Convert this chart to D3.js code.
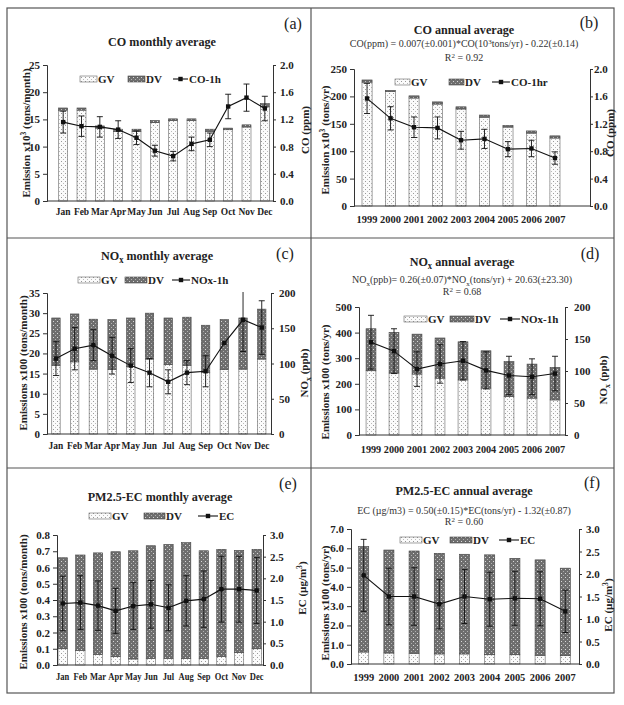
<!DOCTYPE html>
<html><head><meta charset="utf-8">
<script src="https://cdn.jsdelivr.net/npm/d3@7"></script>
<style>
body{margin:0;background:#fff;}
svg text{font-family:"Liberation Serif","Times New Roman","DejaVu Serif",serif !important;}
</style></head>
<body><svg id="c" width="624" height="705"></svg>
<script>
// ---------- DATA ----------
const months = ["Jan","Feb","Mar","Apr","May","Jun","Jul","Aug","Sep","Oct","Nov","Dec"];
const years = ["1999","2000","2001","2002","2003","2004","2005","2006","2007"];

// (a) CO monthly (x10^3 tons/month), CO-1h (ppm)
const coMonthGV = [16.7,16.7,13.4,12.8,12.8,14.4,14.8,14.8,12.8,13.1,13.6,17.3];
const coMonthDV = [0.4,0.4,0.4,0.4,0.4,0.4,0.3,0.3,0.4,0.3,0.4,0.6];
const coMonthObs = [1.16,1.10,1.09,1.05,0.93,0.74,0.66,0.84,0.90,1.39,1.52,1.36];
const coMonthErr = [0.16,0.15,0.15,0.13,0.10,0.08,0.07,0.10,0.10,0.18,0.20,0.18];

// (b) CO annual (x10^3 tons/yr), CO-1hr (ppm)
const coYearGV = [226,209,197,186,177,162,144,133,124];
const coYearDV = [4,2,4,4,4,4,3,4,4];
const coYearObs = [1.57,1.28,1.15,1.14,0.96,0.98,0.83,0.84,0.70];
const coYearErr = [0.22,0.17,0.15,0.16,0.13,0.14,0.11,0.12,0.09];

// (c) NOx monthly (x100 tons/month), NOx-1h (ppb)
const noxMonthGV = [17.0,17.9,16.1,16.0,16.8,18.6,17.2,17.0,15.3,16.0,16.1,18.6];
const noxMonthDV = [11.8,11.9,12.4,12.4,12.0,11.4,11.6,12.0,11.7,12.4,12.7,12.4];
const noxMonthObs = [107,121,126,111,97,87,74,87,89,129,162,151];
const noxMonthErr = [24,30,22,26,24,20,17,17,22,0,45,38];

// (d) NOx annual (x100 tons/yr), NOx-1h (ppb)
const noxYearGV = [251,242,238,222,215,183,150,144,137];
const noxYearDV = [164,159,156,157,149,146,137,133,127];
const noxYearObs = [145,131,103,111,116,101,93,91,96];
const noxYearErr = [42,35,27,30,30,29,30,28,27];

// (e) PM2.5-EC monthly (x100 tons/month), EC (ug/m3)
const ecMonthGV = [0.100,0.090,0.065,0.051,0.037,0.041,0.041,0.041,0.041,0.053,0.076,0.100];
const ecMonthDV = [0.560,0.587,0.625,0.646,0.666,0.693,0.701,0.712,0.662,0.659,0.629,0.612];
const ecMonthObs = [1.42,1.44,1.37,1.25,1.36,1.40,1.32,1.48,1.52,1.75,1.75,1.72];
const ecMonthErr = [0.63,0.62,0.57,0.52,0.54,0.55,0.53,0.58,0.65,0.76,0.76,0.76];

// (f) PM2.5-EC annual (x100 tons/yr), EC (ug/m3)
const ecYearGV = [0.62,0.57,0.55,0.52,0.52,0.48,0.48,0.45,0.43];
const ecYearDV = [5.47,5.34,5.31,5.22,5.17,5.18,5.00,4.95,4.54];
const ecYearObs = [1.97,1.50,1.50,1.33,1.50,1.44,1.46,1.45,1.17];
const ecYearErr = [0.80,0.63,0.64,0.55,0.60,0.60,0.60,0.60,0.47];

// tick values
const coMonthLeftTicks = [0,5,10,15,20,25];
const coYearLeftTicks = [0,50,100,150,200,250];
const coRightTicks = [0,0.4,0.8,1.2,1.6,2.0];
const noxMonthLeftTicks = [0,5,10,15,20,25,30,35];
const noxMonthRightTicks = [0,50,100,150,200];
const noxYearLeftTicks = [0,100,200,300,400,500];
const noxYearRightTicks = [0,50,100,150,200];
const ecMonthLeftTicks = [0,0.1,0.2,0.3,0.4,0.5,0.6,0.7,0.8];
const ecYearLeftTicks = [0,1,2,3,4,5,6,7];
const ecRightTicks = [0,0.5,1.0,1.5,2.0,2.5,3.0];

// ---------- DRAW ----------
const svg = d3.select("#c");
const defs = svg.append("defs");
const pg = defs.append("pattern").attr("id","gv").attr("width",4).attr("height",4).attr("patternUnits","userSpaceOnUse");
pg.append("rect").attr("width",4).attr("height",4).attr("fill","#fbfbfb");
pg.append("rect").attr("x",1).attr("y",1).attr("width",1).attr("height",1).attr("fill","#999");
pg.append("rect").attr("x",3).attr("y",3).attr("width",1).attr("height",1).attr("fill","#bbb");
const pd = defs.append("pattern").attr("id","dv").attr("width",4).attr("height",4).attr("patternUnits","userSpaceOnUse");
pd.append("rect").attr("width",4).attr("height",4).attr("fill","#6e6e6e");
pd.append("rect").attr("x",1).attr("y",1).attr("width",1).attr("height",1).attr("fill","#d8d8d8");
pd.append("rect").attr("x",3).attr("y",3).attr("width",1).attr("height",1).attr("fill","#b0b0b0");

const frameCol = "#555";
svg.append("rect").attr("x",7).attr("y",8).attr("width",607).attr("height",685)
  .attr("fill","none").attr("stroke",frameCol).attr("stroke-width",1.2);
svg.append("line").attr("x1",311).attr("x2",311).attr("y1",8).attr("y2",693).attr("stroke",frameCol).attr("stroke-width",1.2);
svg.append("line").attr("x1",7).attr("x2",614).attr("y1",238).attr("y2",238).attr("stroke",frameCol).attr("stroke-width",1.2);
svg.append("line").attr("x1",7).attr("x2",614).attr("y1",468).attr("y2",468).attr("stroke",frameCol).attr("stroke-width",1.2);

// rich text: parts are strings or [text, "sup"|"sub"]
function rich(sel, parts, fs){
  let back = 0;
  parts.forEach(p=>{
    const [t,m] = Array.isArray(p)?p:[p,""];
    const ts = sel.append("tspan").text(t);
    let dy = back; back = 0;
    if(m==="sup"){ dy += -fs*0.35; back = fs*0.35; ts.attr("font-size",fs*0.7); }
    if(m==="sub"){ dy += fs*0.25; back = -fs*0.25; ts.attr("font-size",fs*0.7); }
    if(dy!==0) ts.attr("dy",dy);
  });
}

function panel(o){
  const g = svg.append("g");
  const x = d3.scaleBand().domain(o.cats).range(o.band).paddingInner(1-o.barFrac).paddingOuter((1-o.barFrac)/2);
  const yL = d3.scaleLinear().domain([0,o.leftMax]).range([o.bottom,o.top]);
  const yR = d3.scaleLinear().domain([0,o.rightMax]).range([o.bottom,o.top]);
  const clipId = "clip"+o.tag;
  defs.append("clipPath").attr("id",clipId).append("rect")
    .attr("x",o.left).attr("y",o.top-1).attr("width",o.right-o.left).attr("height",o.bottom-o.top+1);

  const rows = o.cats.map((c,i)=>({c, gv:o.gv[i], dv:o.dv[i], obs:o.obs[i], err:o.err[i]}));
  const bw = x.bandwidth();
  g.selectAll(".gvb").data(rows).join("rect")
    .attr("x",d=>x(d.c)).attr("width",bw)
    .attr("y",d=>yL(d.gv)).attr("height",d=>yL(0)-yL(d.gv))
    .attr("fill","url(#gv)").attr("stroke","#666").attr("stroke-width",0.6);
  g.selectAll(".dvb").data(rows).join("rect")
    .attr("x",d=>x(d.c)).attr("width",bw)
    .attr("y",d=>yL(d.gv+d.dv)).attr("height",d=>yL(d.gv)-yL(d.gv+d.dv))
    .attr("fill","url(#dv)").attr("stroke","#444").attr("stroke-width",0.6);

  const eg = g.append("g").attr("clip-path",`url(#${clipId})`);
  const cx = d=>x(d.c)+bw/2;
  const er = rows.filter(d=>d.err>0);
  eg.selectAll(".ev").data(er).join("line")
    .attr("x1",cx).attr("x2",cx).attr("y1",d=>yR(d.obs+d.err)).attr("y2",d=>yR(d.obs-d.err))
    .attr("stroke","#111").attr("stroke-width",0.9);
  ["t","b"].forEach(k=>{
    eg.selectAll(".ec"+k).data(er).join("line")
      .attr("x1",d=>cx(d)-3).attr("x2",d=>cx(d)+3)
      .attr("y1",d=>yR(k==="t"?d.obs+d.err:d.obs-d.err)).attr("y2",d=>yR(k==="t"?d.obs+d.err:d.obs-d.err))
      .attr("stroke","#111").attr("stroke-width",0.9);
  });
  g.append("path").datum(rows)
    .attr("d",d3.line().x(cx).y(d=>yR(d.obs)))
    .attr("fill","none").attr("stroke","#111").attr("stroke-width",1.1);
  g.selectAll(".pt").data(rows).join("rect")
    .attr("x",d=>cx(d)-2.2).attr("y",d=>yR(d.obs)-2.2).attr("width",4.4).attr("height",4.4).attr("fill","#111");

  const ax = g.append("g").attr("font-weight","bold");
  const la = d3.axisLeft(yL).tickValues(o.leftTicks).tickSize(4).tickPadding(3).tickFormat(o.leftFmt);
  const ra = d3.axisRight(yR).tickValues(o.rightTicks).tickSize(3).tickPadding(o.rPad).tickFormat(o.rightFmt);
  const ba = d3.axisBottom(x).tickSize(0).tickPadding(o.xPad);
  [[la,`translate(${o.left},0)`],[ra,`translate(${o.right},0)`]].forEach(([a,t])=>{
    const s = ax.append("g").attr("transform",t).call(a);
    s.selectAll("text").attr("font-size",o.tickFs).attr("font-weight","bold").attr("fill","#222");
    s.select(".domain").attr("stroke","#333");
    s.selectAll(".tick line").attr("stroke","#333");
  });
  const bs = ax.append("g").attr("transform",`translate(0,${o.bottom})`).call(ba);
  bs.select(".domain").remove();
  bs.selectAll("text").attr("font-size",o.xFs).attr("font-weight","bold").attr("fill","#222")
    .attr("transform",`scale(${o.xSx},1)`);
  ax.append("line").attr("x1",o.left).attr("x2",o.right).attr("y1",o.bottom).attr("y2",o.bottom).attr("stroke","#333");

  const lt = g.append("text").attr("transform",`translate(${o.lLabX},${o.lLabY}) rotate(-90)`)
    .attr("text-anchor","middle").attr("font-size",11).attr("font-weight","bold").attr("fill","#222");
  rich(lt,o.lLab,11);
  const rt = g.append("text").attr("transform",`translate(${o.rLabX},${o.rLabY}) rotate(-90)`)
    .attr("text-anchor","middle").attr("font-size",11).attr("font-weight","bold").attr("fill","#222");
  rich(rt,o.rLab,11);

  const tt = g.append("text").attr("transform",`translate(${o.titleX},${o.titleY}) scale(0.9,1)`).attr("text-anchor","middle")
    .attr("font-size",13.5).attr("font-weight","bold").attr("fill","#222");
  rich(tt,o.title,13.5);
  (o.eq||[]).forEach(e=>{
    const t = g.append("text").attr("x",o.titleX).attr("y",e.y).attr("text-anchor","middle")
      .attr("font-size",10).attr("fill","#333");
    rich(t,e.parts,10);
  });
  g.append("text").attr("x",o.tagX).attr("y",o.tagY).attr("text-anchor","middle")
    .attr("font-size",16).attr("fill","#222").text("("+o.tag+")");

  const L = o.leg, ly = L.y;
  g.append("rect").attr("x",L.gv[0]).attr("y",ly-3).attr("width",L.gv[1]-L.gv[0]).attr("height",6)
    .attr("fill","url(#gv)").attr("stroke","#666").attr("stroke-width",0.6);
  g.append("text").attr("x",L.gv[1]+1).attr("y",ly+4).attr("font-size",11).attr("font-weight","bold").attr("fill","#222").text("GV");
  g.append("rect").attr("x",L.dv[0]).attr("y",ly-3).attr("width",L.dv[1]-L.dv[0]).attr("height",6)
    .attr("fill","url(#dv)").attr("stroke","#444").attr("stroke-width",0.6);
  g.append("text").attr("x",L.dv[1]+1).attr("y",ly+4).attr("font-size",11).attr("font-weight","bold").attr("fill","#222").text("DV");
  g.append("line").attr("x1",L.ln[0]).attr("x2",L.ln[1]).attr("y1",ly).attr("y2",ly).attr("stroke","#111").attr("stroke-width",1.1);
  g.append("rect").attr("x",(L.ln[0]+L.ln[1])/2-2.2).attr("y",ly-2.2).attr("width",4.4).attr("height",4.4).attr("fill","#111");
  g.append("text").attr("x",L.ln[1]+1).attr("y",ly+4).attr("font-size",11).attr("font-weight","bold").attr("fill","#222").text(o.obsName);
}

const f1 = d3.format(".1f"), f0 = d3.format("d");

panel({tag:"a", cats:months, gv:coMonthGV, dv:coMonthDV, obs:coMonthObs, err:coMonthErr,
  left:47, right:273, top:65, bottom:201, band:[54,274], barFrac:0.49,
  leftMax:25, rightMax:2.0, leftTicks:coMonthLeftTicks, rightTicks:coRightTicks, leftFmt:f0, rightFmt:f1,
  tickFs:11, xFs:10.5, xSx:0.9, xPad:7, rPad:4,
  lLab:["Emission x10",["3","sup"]," (tons/month)"], lLabX:30, lLabY:133,
  rLab:["CO (ppm)"], rLabX:309, rLabY:130,
  title:["CO monthly average"], titleX:162, titleY:46, tagX:293, tagY:29,
  leg:{y:79, gv:[80,97], dv:[128,145], ln:[173,188]}, obsName:"CO-1h"});

panel({tag:"b", cats:years, gv:coYearGV, dv:coYearDV, obs:coYearObs, err:coYearErr,
  left:354, right:590, top:69, bottom:206, band:[355.3,566.7], barFrac:0.43,
  leftMax:250, rightMax:2.0, leftTicks:coYearLeftTicks, rightTicks:coRightTicks, leftFmt:f0, rightFmt:f1,
  tickFs:11, xFs:11, xSx:0.95, xPad:9, rPad:1,
  lLab:["Emission x10",["3","sup"]," (tons/yr)"], lLabX:329, lLabY:140,
  rLab:["CO (ppm)"], rLabX:614, rLabY:133,
  title:["CO annual average"], titleX:464, titleY:34, tagX:589, tagY:28,
  eq:[{y:47, parts:["CO(ppm) = 0.007(\u00b10.001)*CO(10",["3","sup"],"tons/yr) - 0.22(\u00b10.14)"]},
      {y:61, parts:["R",["2","sup"]," = 0.92"]}],
  leg:{y:82, gv:[395,410], dv:[449,464], ln:[492,510]}, obsName:"CO-1hr"});

panel({tag:"c", cats:months, gv:noxMonthGV, dv:noxMonthDV, obs:noxMonthObs, err:noxMonthErr,
  left:47, right:271, top:293, bottom:434, band:[46.6,271.1], barFrac:0.45,
  leftMax:35, rightMax:200, leftTicks:noxMonthLeftTicks, rightTicks:noxMonthRightTicks, leftFmt:f0, rightFmt:f0,
  tickFs:11, xFs:10.5, xSx:0.9, xPad:8, rPad:5,
  lLab:["Emissions x100 (tons/month)"], lLabX:27, lLabY:363,
  rLab:["NO",["x","sub"]," (ppb)"], rLabX:308, rLabY:373,
  title:["NO",["x","sub"]," monthly average"], titleX:157, titleY:260, tagX:285, tagY:259,
  leg:{y:280, gv:[78,100], dv:[125,147], ln:[172,190]}, obsName:"NOx-1h"});

panel({tag:"d", cats:years, gv:noxYearGV, dv:noxYearDV, obs:noxYearObs, err:noxYearErr,
  left:359, right:565, top:307, bottom:435, band:[359.5,566.5], barFrac:0.43,
  leftMax:500, rightMax:200, leftTicks:noxYearLeftTicks, rightTicks:noxYearRightTicks, leftFmt:f0, rightFmt:f0,
  tickFs:11, xFs:11, xSx:0.93, xPad:10, rPad:6,
  lLab:["Emissions  x100 (tons/yr)"], lLabX:329, lLabY:382,
  rLab:["NO",["x","sub"]," (ppb)"], rLabX:607, rLabY:380,
  title:["NO",["x","sub"]," annual average"], titleX:462, titleY:266, tagX:590, tagY:259,
  eq:[{y:283, parts:["NO",["x","sub"],"(ppb)= 0.26(\u00b10.07)*NO",["x","sub"],"(tons/yr) + 20.63(\u00b123.30)"]},
      {y:295, parts:["R",["2","sup"]," = 0.68"]}],
  leg:{y:319, gv:[404,427], dv:[450,474], ln:[500,520]}, obsName:"NOx-1h"});

panel({tag:"e", cats:months, gv:ecMonthGV, dv:ecMonthDV, obs:ecMonthObs, err:ecMonthErr,
  left:57, right:263, top:535, bottom:665, band:[53.9,265.5], barFrac:0.53,
  leftMax:0.8, rightMax:3.0, leftTicks:ecMonthLeftTicks, rightTicks:ecRightTicks, leftFmt:f1, rightFmt:f1,
  tickFs:11, xFs:10, xSx:0.85, xPad:8, rPad:4,
  lLab:["Emissions x100 (tons/month)"], lLabX:27, lLabY:602,
  rLab:["EC (\u00b5g/m",["3","sup"],")"], rLabX:306, rLabY:588,
  title:["PM2.5-EC monthly average"], titleX:160, titleY:501, tagX:288, tagY:489,
  leg:{y:516, gv:[89,111], dv:[144,165], ln:[198,218]}, obsName:"EC"});

panel({tag:"f", cats:years, gv:ecYearGV, dv:ecYearDV, obs:ecYearObs, err:ecYearErr,
  left:351, right:579, top:529, bottom:664, band:[351.1,577.9], barFrac:0.40,
  leftMax:7.0, rightMax:3.0, leftTicks:ecYearLeftTicks, rightTicks:ecRightTicks, leftFmt:f1, rightFmt:f1,
  tickFs:11, xFs:11, xSx:0.95, xPad:9, rPad:4,
  lLab:["Emissions x100 (tons/yr)"], lLabX:329, lLabY:603,
  rLab:["EC (\u00b5g/m",["3","sup"],")"], rLabX:612, rLabY:605,
  title:["PM2.5-EC annual average"], titleX:464, titleY:495, tagX:592, tagY:488,
  eq:[{y:514, parts:["EC (\u00b5g/m3) = 0.50(\u00b10.15)*EC(tons/yr) - 1.32(\u00b10.87)"]},
      {y:525, parts:["R",["2","sup"]," = 0.60"]}],
  leg:{y:540, gv:[400,422], dv:[450,472], ln:[499,519]}, obsName:"EC"});
</script></body></html>
